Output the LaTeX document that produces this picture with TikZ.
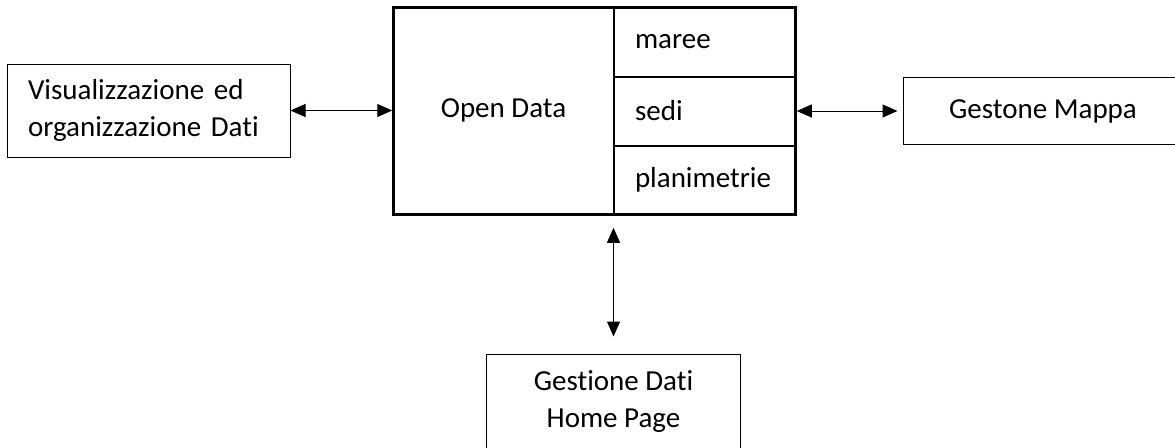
\documentclass[tikz,border=0pt]{standalone}
\usepackage{fontspec}
\setmainfont{Carlito}[RawFeature=-liga]
\usetikzlibrary{arrows.meta, positioning, fit}
\tikzset{
  block/.style={rectangle, draw=black, line width=1pt, align=center, font=\fontsize{29}{37}\selectfont},
  cell/.style={rectangle, draw=black, line width=1pt, minimum width=181pt, minimum height=68pt, text width=139pt, inner xsep=21pt, align=left, font=\fontsize{29}{37}\selectfont},
  frame/.style={rectangle, draw=black, line width=2.5pt, inner sep=0pt},
  arrow/.style={{Triangle[length=15pt, width=13pt]}-{Triangle[length=15pt, width=13pt]}, draw=black, line width=1pt},
}
\begin{document}
\begin{tikzpicture}[x=1pt, y=-1pt]
  \useasboundingbox (0,0) rectangle (1175,447);

  % ---- Central block: Open Data ----
  \node (opendata) [block, minimum width=219pt, minimum height=205pt] at (503.5,110.5) {Open Data};
  \node (maree) [cell, below right=0pt and 0pt of opendata.north east] {maree};
  \node (sedi) [cell, below=0pt of maree] {sedi};
  \node (plan) [cell, below=0pt of sedi] {planimetrie};
  \node (outer) [frame, fit=(opendata)(plan)] {};

  % ---- Side blocks ----
  \node (vis) [block, left=103pt of opendata, minimum width=283pt, minimum height=93pt, text width=241pt, align=left] {Visualizzazione ed\\organizzazione Dati};
  \node (mappa) [block, right=107pt of sedi, minimum width=280pt, minimum height=67pt] {Gestone Mappa};

  % ---- Bottom block ----
  \node (home) [block, below=140pt of opendata.south east, minimum width=254pt, minimum height=96pt] {Gestione Dati\\Home Page};

  % ---- Arrows ----
  \draw [arrow] (vis.east) -- (vis.east -| outer.west);
  \draw [arrow] (outer.east |- mappa.west) -- ([xshift=-5pt]mappa.west);
  \draw [arrow] ([yshift=-12pt]outer.south -| home.north) -- ([yshift=17pt]home.north);

\end{tikzpicture}
\end{document}
